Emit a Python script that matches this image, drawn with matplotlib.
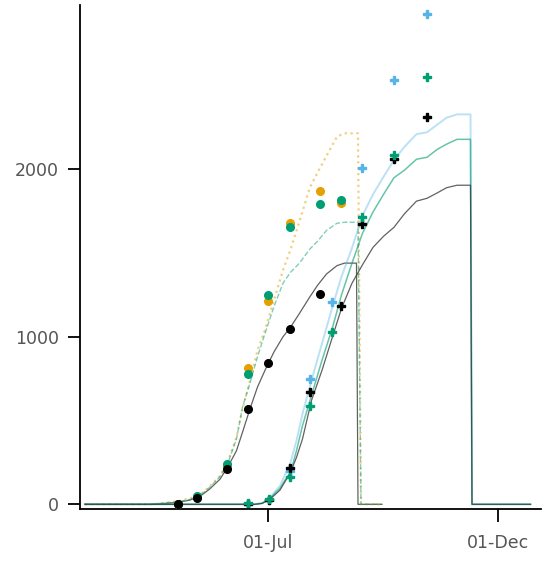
import numpy as np
import matplotlib
matplotlib.use("Agg")
import matplotlib.pyplot as plt
import matplotlib.dates as mdates

# day-of-year (2019) grids for the simulated lines
early_doy = [60, 103, 113, 122, 130, 137, 143, 150, 155, 161, 165, 170, 175, 180,
             186, 192, 197, 203, 210, 215, 221, 228, 233, 241, 242, 244, 258]
early_black = [0, 0, 5, 12, 25, 50, 90, 150, 220, 320, 430, 570, 700, 800,
               910, 1000, 1057, 1140, 1240, 1307, 1375, 1425, 1440, 1440, 0, 0, 0]
early_orange = [0, 0, 8, 18, 35, 60, 105, 170, 250, 400, 570, 735, 920, 1040,
                1220, 1397, 1520, 1690, 1893, 1980, 2080, 2195, 2215, 2215, 2215, 0, 0]
early_green = [0, 0, 8, 15, 30, 55, 100, 165, 240, 390, 580, 725, 880, 1020,
               1180, 1320, 1385, 1440, 1525, 1570, 1635, 1678, 1684, 1684, 1684, 0, 0]

late_doy = [60, 173, 178, 183, 187, 190, 193, 197, 201, 205, 211, 218, 225, 231,
            238, 245, 252, 259, 266, 273, 281, 288, 295, 301, 308, 317, 318, 357]
late_black = [0, 0, 5, 28, 60, 85, 130, 190, 280, 390, 620, 800, 1000, 1170,
              1320, 1430, 1534, 1600, 1654, 1735, 1810, 1827, 1860, 1890, 1905, 1905, 0, 0]
late_blue = [0, 0, 8, 35, 80, 110, 170, 250, 380, 540, 740, 960, 1180, 1360,
             1530, 1725, 1850, 1955, 2055, 2135, 2210, 2221, 2268, 2308, 2328, 2328, 0, 0]
late_green = [0, 0, 6, 30, 70, 95, 140, 190, 320, 470, 650, 860, 1055, 1250,
              1440, 1618, 1745, 1850, 1950, 1995, 2060, 2072, 2120, 2150, 2179, 2179, 0, 0]

# observations
obs_early_doy = [122, 135, 155, 169, 182, 197, 217, 231]
obs_early_black = [0, 36, 209, 571, 845, 1048, 1256]
obs_early_orange = [0, 45, 228, 812, 1212, 1678, 1869, 1797]
obs_early_green = [0, 50, 240, 776, 1248, 1654, 1791, 1815]

obs_late_doy = [169, 183, 197, 210, 225, 245, 266, 288]
obs_late_black_doy = [169, 183, 197, 210, 231, 245, 266, 288]
obs_late_black = [0, 24, 215, 672, 1185, 1673, 2060, 2310]
obs_late_blue = [0, 24, 197, 746, 1206, 2006, 2536, 2929]
obs_late_green = [6, 30, 161, 585, 1027, 1714, 2083, 2554]

tick_dates = ["2019-07-01", "2019-12-01"]

base = mdates.date2num(np.datetime64("2019-01-01"))


def to_date(doy):
    return base + np.asarray(doy, dtype=float) - 1


fig = plt.figure(figsize=(5.44, 5.62), dpi=100)
ax = fig.add_axes([0.1471, 0.0943, 0.8474, 0.8968])

grey = "#3a3a3a"
orange = "#E69F00"
green = "#009E73"
blue = "#56B4E9"

ax.plot(to_date(early_doy), early_black, color=grey, lw=0.9, alpha=0.8)
ax.plot(to_date(early_doy), early_orange, color=orange, lw=1.6, ls=":", alpha=0.5)
ax.plot(to_date(early_doy), early_green, color=green, lw=1.0, ls="--", alpha=0.5)

ax.plot(to_date(late_doy), late_blue, color=blue, lw=1.4, alpha=0.4)
ax.plot(to_date(late_doy), late_green, color=green, lw=1.1, alpha=0.6)
ax.plot(to_date(late_doy), late_black, color=grey, lw=0.9, alpha=0.8)

ms = 5.5
ax.plot(to_date(obs_early_doy), obs_early_orange, "o", color=orange, ms=ms, zorder=5)
ax.plot(to_date(obs_early_doy), obs_early_green, "o", color=green, ms=ms, zorder=5)
ax.plot(to_date(obs_early_doy[:len(obs_early_black)]), obs_early_black, "o", color="black", ms=ms, zorder=5)

pk = dict(marker="P", ls="none", ms=5.5, mew=1, zorder=5)
ax.plot(to_date(obs_late_doy), obs_late_blue, color=blue, **pk)
ax.plot(to_date(obs_late_black_doy), obs_late_black, color="black", **pk)
ax.plot(to_date(obs_late_doy), obs_late_green, color=green, **pk)

ax.set_xlim(to_date(56.7), to_date(364))
ax.set_ylim(-28, 2981)
ax.set_xticks([mdates.date2num(np.datetime64(d)) for d in tick_dates])
ax.xaxis.set_major_formatter(mdates.DateFormatter("%d-%b"))
ax.set_yticks([0, 1000, 2000])

for s in ["top", "right"]:
    ax.spines[s].set_visible(False)
for s in ["left", "bottom"]:
    ax.spines[s].set_linewidth(1.3)

ax.tick_params(axis="both", length=9, width=1.3, labelsize=12.5, labelcolor="#555555")
ax.tick_params(axis="x", pad=9)
ax.tick_params(axis="y", pad=6)

fig.savefig("out.png", dpi=100)
